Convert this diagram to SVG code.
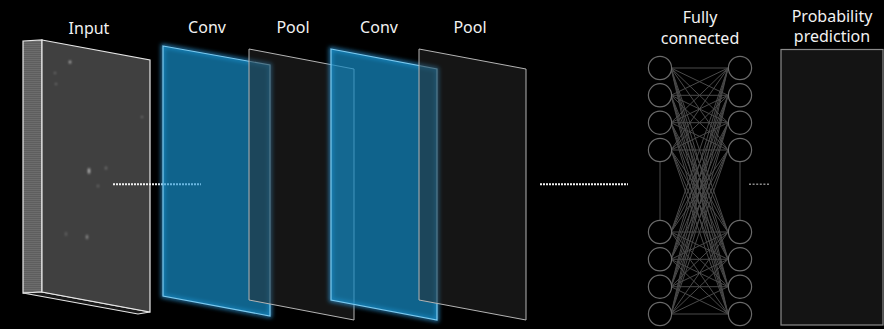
<svg xmlns="http://www.w3.org/2000/svg" width="884" height="329" viewBox="0 0 884 329">
<defs>
<style>
.lbl{font-family:"Noto Sans","Liberation Sans",sans-serif;font-size:16px;fill:#f2f2f2;text-anchor:middle}
.conv{fill:#1589c2;fill-opacity:0.72;stroke:#7ccaf0;stroke-width:1.2}
.glow{fill:none;stroke:#2ea0e6;stroke-width:3.5;stroke-opacity:0.8;filter:url(#blur)}
.pool{fill:#2a2a2a;fill-opacity:0.5;stroke:#b4b4b4;stroke-width:1}
.fcl{stroke:#4a4a4a;stroke-width:1;fill:none}
.node{fill:#000;stroke:#6a6a6a;stroke-width:1.2}
.dot{fill:none;stroke-width:2;stroke-dasharray:2 1}
</style>
<filter id="blur" x="-20%" y="-20%" width="140%" height="140%"><feGaussianBlur stdDeviation="2.2"/></filter>
<filter id="spot" x="-100%" y="-100%" width="300%" height="300%"><feGaussianBlur stdDeviation="1"/></filter>
<pattern id="stripe" width="4" height="2" patternUnits="userSpaceOnUse">
<rect width="4" height="2" fill="#6c6c6c"/><rect width="4" height="0.8" fill="#5a5a5a"/>
</pattern>
</defs>
<rect width="884" height="329" fill="#000"/>

<g id="input">
<polygon points="23,41 42,40 42,292 23,293" fill="url(#stripe)" stroke="#e6e6e6" stroke-width="1.2"/>
<polygon points="23,293 42,292 150,312 138,314" fill="#1a1a1a" stroke="#e6e6e6" stroke-width="1.2"/>
<polygon points="42,40 150,60 150,312 42,292" fill="#404040" stroke="#e6e6e6" stroke-width="1.2"/>
<g fill="#bdbdbd" filter="url(#spot)">
<ellipse cx="70" cy="62" rx="1.2" ry="1.5"/>
<ellipse cx="55" cy="73" rx="0.8" ry="1" opacity="0.6"/>
<ellipse cx="56" cy="84" rx="0.8" ry="1" opacity="0.6"/>
<ellipse cx="142" cy="117" rx="0.8" ry="1" opacity="0.6"/>
<ellipse cx="89" cy="171" rx="1.2" ry="3"/>
<ellipse cx="106" cy="168" rx="0.8" ry="1.5" opacity="0.6"/>
<ellipse cx="98" cy="186" rx="0.8" ry="1.2" opacity="0.5"/>
<ellipse cx="87" cy="237" rx="0.9" ry="2.2" opacity="0.8"/>
<ellipse cx="66" cy="234" rx="0.8" ry="2" opacity="0.4"/>
</g>
</g>

<g id="connectors">
<line class="dot" x1="113" y1="184.3" x2="164" y2="184.3" stroke="#f0f0f0"/>
<line class="dot" x1="540" y1="184.3" x2="628" y2="184.3" stroke="#f0f0f0"/>
<line x1="749" y1="184.3" x2="769" y2="184.3" stroke="#8a8a8a" stroke-width="1.4" stroke-dasharray="2 1.6"/>
</g>

<g id="conv1">
<polygon class="glow" points="163,46 270,65 270,316 163,296"/>
<polygon class="conv" points="163,46 270,65 270,316 163,296"/>
<line class="dot" x1="164" y1="184.3" x2="201" y2="184.3" stroke="#6ab6e0"/>
</g>

<g id="pool1">
<polygon class="pool" points="249,49 354,69 354,320 249,300"/>
</g>

<g id="conv2">
<polygon class="glow" points="331,49 437,69 437,320 331,300"/>
<polygon class="conv" points="331,49 437,69 437,320 331,300"/>
</g>

<g id="pool2">
<polygon class="pool" points="419,49 526,69 526,320 419,300"/>
</g>

<g id="fully-connected">
<g class="fcl">
<path d="M671,68L728,68M671,68L728,95.3M671,68L728,122.7M671,68L728,150M671,68L728,232M671,68L728,259.3M671,68L728,286.7M671,68L728,314"/>
<path d="M671,95.3L728,68M671,95.3L728,95.3M671,95.3L728,122.7M671,95.3L728,150M671,95.3L728,232M671,95.3L728,259.3M671,95.3L728,286.7M671,95.3L728,314"/>
<path d="M671,122.7L728,68M671,122.7L728,95.3M671,122.7L728,122.7M671,122.7L728,150M671,122.7L728,232M671,122.7L728,259.3M671,122.7L728,286.7M671,122.7L728,314"/>
<path d="M671,150L728,68M671,150L728,95.3M671,150L728,122.7M671,150L728,150M671,150L728,232M671,150L728,259.3M671,150L728,286.7M671,150L728,314"/>
<path d="M671,232L728,68M671,232L728,95.3M671,232L728,122.7M671,232L728,150M671,232L728,232M671,232L728,259.3M671,232L728,286.7M671,232L728,314"/>
<path d="M671,259.3L728,68M671,259.3L728,95.3M671,259.3L728,122.7M671,259.3L728,150M671,259.3L728,232M671,259.3L728,259.3M671,259.3L728,286.7M671,259.3L728,314"/>
<path d="M671,286.7L728,68M671,286.7L728,95.3M671,286.7L728,122.7M671,286.7L728,150M671,286.7L728,232M671,286.7L728,259.3M671,286.7L728,286.7M671,286.7L728,314"/>
<path d="M671,314L728,68M671,314L728,95.3M671,314L728,122.7M671,314L728,150M671,314L728,232M671,314L728,259.3M671,314L728,286.7M671,314L728,314"/>
<path d="M660,161.5L660,220.5M740,161.5L740,220.5"/>
</g>
<g class="node">
<circle cx="660" cy="68" r="11.6"/><circle cx="660" cy="95.3" r="11.6"/><circle cx="660" cy="122.7" r="11.6"/><circle cx="660" cy="150" r="11.6"/>
<circle cx="660" cy="232" r="11.6"/><circle cx="660" cy="259.3" r="11.6"/><circle cx="660" cy="286.7" r="11.6"/><circle cx="660" cy="314" r="11.6"/>
<circle cx="740" cy="68" r="11.6"/><circle cx="740" cy="95.3" r="11.6"/><circle cx="740" cy="122.7" r="11.6"/><circle cx="740" cy="150" r="11.6"/>
<circle cx="740" cy="232" r="11.6"/><circle cx="740" cy="259.3" r="11.6"/><circle cx="740" cy="286.7" r="11.6"/><circle cx="740" cy="314" r="11.6"/>
</g>
</g>

<g id="probability">
<rect x="781" y="49.5" width="102" height="275.5" fill="#141414" stroke="#8a8a8a" stroke-width="1.2"/>
</g>

<g id="labels">
<text class="lbl" x="89" y="34">Input</text>
<text class="lbl" x="207" y="33">Conv</text>
<text class="lbl" x="293" y="33">Pool</text>
<text class="lbl" x="379" y="33">Conv</text>
<text class="lbl" x="470" y="33">Pool</text>
<text class="lbl" x="700" y="23">Fully</text>
<text class="lbl" x="700" y="44">connected</text>
<text class="lbl" x="832" y="22">Probability</text>
<text class="lbl" x="832" y="42">prediction</text>
</g>
</svg>
